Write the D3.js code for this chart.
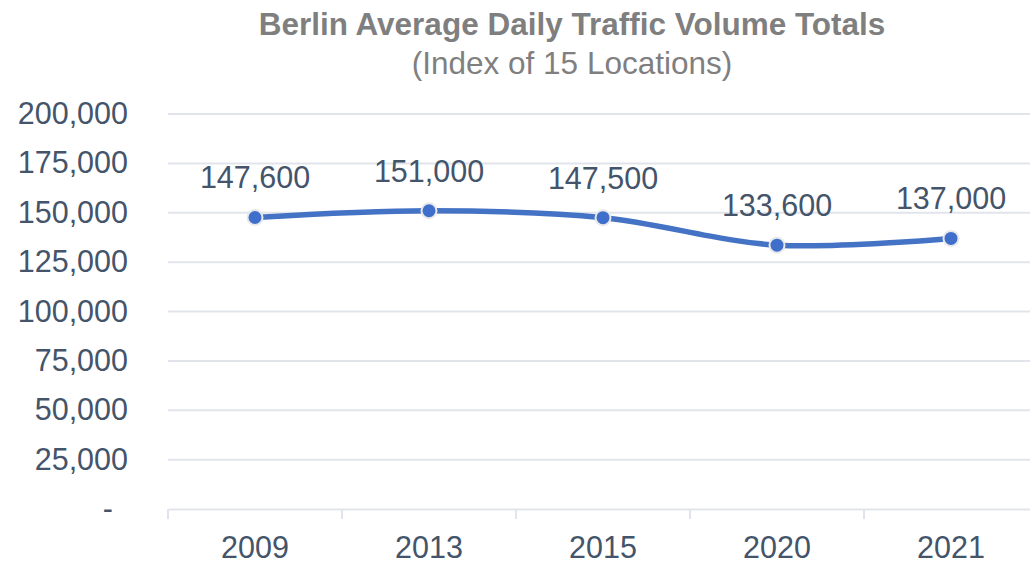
<!DOCTYPE html>
<html lang="en">
<head>
    <meta charset="UTF-8" />
    <script src="https://d3js.org/d3.v7.min.js"></script>
    <title>Berlin Traffic</title>
    <style>
        body { margin: 0; background: #fff; }
        svg { display: block; font-family: "Liberation Sans", Arial, Helvetica, sans-serif; }
    </style>
</head>
<body>
<svg></svg>
<script>
    // chart data
    let years = ["2009", "2013", "2015", "2020", "2021"];
    let volumes = [147600, 151000, 147500, 133600, 137000];
    let yTicks = [0, 25000, 50000, 75000, 100000, 125000, 150000, 175000, 200000];

    let width = 1030, height = 565;

    let svg = d3.select("svg")
        .attr("width", width)
        .attr("height", height);

    let x = d3.scaleBand()
        .domain(years)
        .range([168, 1038]);

    let y = d3.scaleLinear()
        .domain([0, 200000])
        .range([509, 114]);

    let gridColor = "#e1e5eb";
    let textColor = "#44546a";
    let labelSize = "30.5px";

    // title
    svg.append("text")
        .attr("x", 572).attr("y", 35)
        .attr("text-anchor", "middle")
        .style("font-size", "31.5px")
        .style("font-weight", "bold")
        .style("fill", "#7f7f7f")
        .text("Berlin Average Daily Traffic Volume Totals");

    svg.append("text")
        .attr("x", 572).attr("y", 74)
        .attr("text-anchor", "middle")
        .style("font-size", "31.5px")
        .style("fill", "#7f7f7f")
        .text("(Index of 15 Locations)");

    // gridlines
    svg.append("g")
        .selectAll("line")
        .data(yTicks.filter(d => d > 0))
        .enter()
        .append("line")
        .attr("x1", 168).attr("x2", width)
        .attr("y1", d => y(d)).attr("y2", d => y(d))
        .style("stroke", gridColor)
        .style("stroke-width", 2);

    // y labels
    let fmt = d3.format(",");
    svg.append("g")
        .selectAll("text")
        .data(yTicks)
        .enter()
        .append("text")
        .attr("x", d => d === 0 ? 113 : 128)
        .attr("y", d => y(d) + 10)
        .attr("text-anchor", "end")
        .style("font-size", labelSize)
        .style("fill", textColor)
        .text(d => d === 0 ? "-" : fmt(d));

    // x axis
    let xAxis = d3.axisBottom(x)
        .tickSizeInner(0)
        .tickSizeOuter(0)
        .tickPadding(27);

    let gx = svg.append("g")
        .attr("transform", "translate(0," + y(0) + ")")
        .call(xAxis);

    gx.select(".domain").style("stroke", gridColor).style("stroke-width", 2);
    gx.selectAll("text")
        .style("font-size", labelSize)
        .style("font-family", "'Liberation Sans', Arial, sans-serif")
        .style("fill", textColor);

    // separators between categories
    let bounds = years.map(d => x(d)).concat([x(years[years.length - 1]) + x.bandwidth()]);
    gx.selectAll(".sep")
        .data(bounds)
        .enter()
        .append("line")
        .attr("class", "sep")
        .attr("x1", d => d).attr("x2", d => d)
        .attr("y1", 0).attr("y2", 10)
        .style("stroke", gridColor)
        .style("stroke-width", 2);

    // line
    let cx = d => x(d) + x.bandwidth() / 2;
    let pts = years.map((d, i) => [cx(d), y(volumes[i])]);

    svg.append("path")
        .datum(pts)
        .attr("d", d3.line().curve(d3.curveCardinal.tension(0)))
        .style("fill", "none")
        .style("stroke", "#4472c4")
        .style("stroke-width", 5.5)
        .style("stroke-linecap", "round");

    svg.append("g")
        .selectAll("circle")
        .data(pts)
        .enter()
        .append("circle")
        .attr("cx", d => d[0]).attr("cy", d => d[1])
        .attr("r", 7.5)
        .style("fill", "#3f6fca")
        .style("stroke", "#e6e8ec")
        .style("stroke-width", 2);

    // value labels
    svg.append("g")
        .selectAll("text")
        .data(years)
        .enter()
        .append("text")
        .attr("x", d => cx(d))
        .attr("y", (d, i) => y(volumes[i]) - 29)
        .attr("text-anchor", "middle")
        .style("font-size", labelSize)
        .style("fill", textColor)
        .text((d, i) => fmt(volumes[i]));
</script>
</body>
</html>
